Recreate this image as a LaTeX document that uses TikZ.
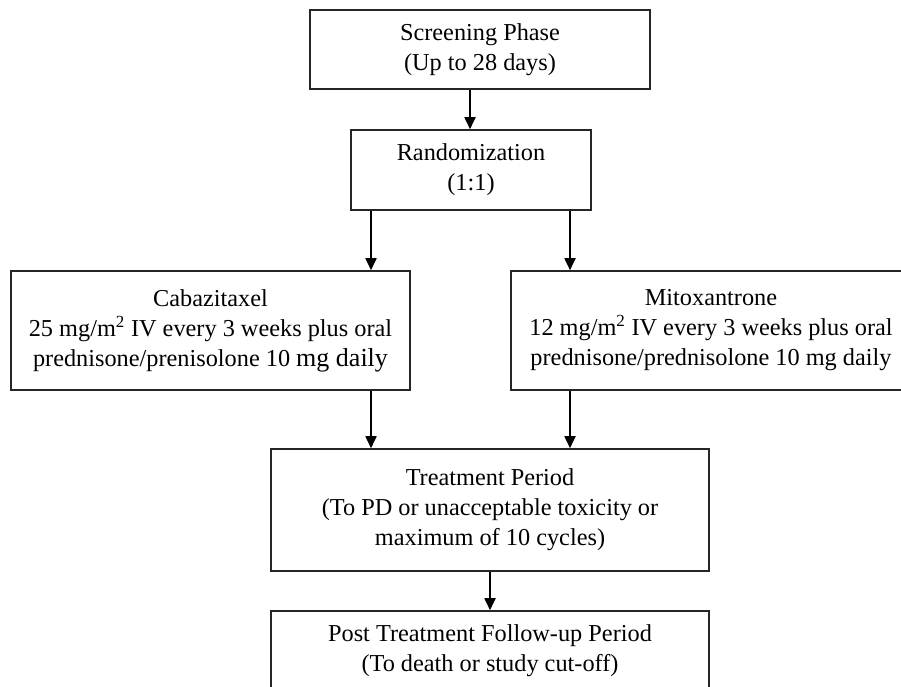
\documentclass[tikz,border=0pt]{standalone}
\usepackage{fontspec}
\setmainfont{Liberation Serif}
\usetikzlibrary{arrows.meta}
\begin{document}
\begin{tikzpicture}[x=1pt,y=-1pt,
  box/.style={draw=black!85,line width=1.6pt,rectangle,inner sep=0pt,align=center,
    font=\fontsize{24.3}{30}\selectfont},
  arr/.style={line width=1.8pt,-{Triangle[width=11pt,length=12pt]}}]
\useasboundingbox (0,0) rectangle (901,686);
\fill[white] (0,0) rectangle (901,686);
\node[box,minimum width=340pt,minimum height=79pt] (scr) at (480,49.5) {Screening Phase\\(Up to 28 days)};
\node[box,minimum width=240pt,minimum height=80pt] (rnd) at (471,170) {Randomization\\(1:1)};
\node[box,minimum width=399pt,minimum height=119pt] (cab) at (210.5,330.5) {Cabazitaxel\\25 mg/m\textsuperscript{2} IV every 3 weeks plus oral\\prednisone/prenisolone 10 {\fontsize{26}{30}\selectfont mg daily}};
\node[box,minimum width=400pt,minimum height=119pt] (mit) at (711,330.5) {Mitoxantrone\\12 mg/m\textsuperscript{2} IV every 3 weeks plus oral\\prednisone/prednisolone 10 mg daily};
\node[box,minimum width=438pt,minimum height=122pt] (trt) at (490,510) {Treatment Period\\(To PD or unacceptable toxicity or\\maximum of 10 cycles)};
\node[box,minimum width=438pt,minimum height=80pt] (pst) at (490,651) {Post Treatment Follow-up Period\\(To death or study cut-off)};
\coordinate (xs) at (470,0);
\coordinate (xl) at (371,0);
\coordinate (xr) at (570,0);
\draw[arr] (scr.south -| xs) -- (rnd.north -| xs);
\draw[arr] (rnd.south -| xl) -- (cab.north -| xl);
\draw[arr] (rnd.south -| xr) -- (mit.north -| xr);
\draw[arr] (cab.south -| xl) -- (trt.north -| xl);
\draw[arr] (mit.south -| xr) -- (trt.north -| xr);
\draw[arr] (trt.south) -- (pst.north);
\end{tikzpicture}
\end{document}
